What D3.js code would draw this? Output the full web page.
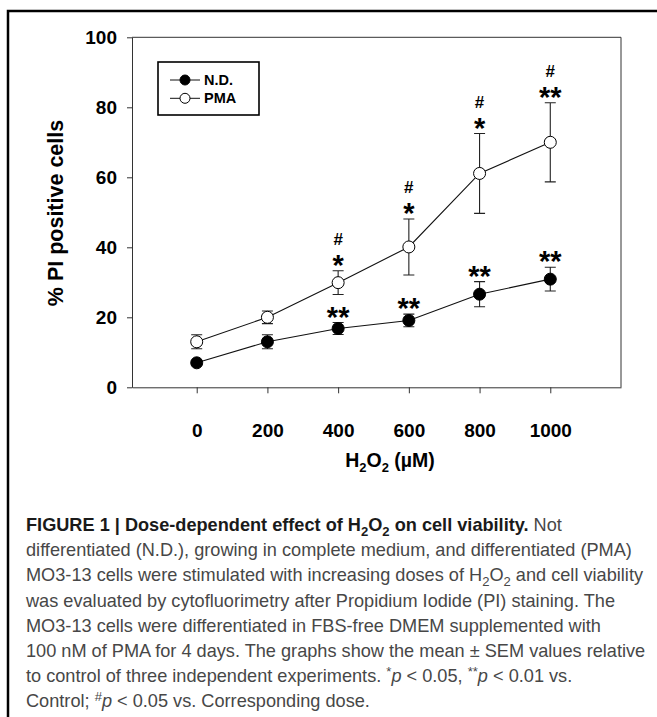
<!DOCTYPE html>
<html><head><meta charset="utf-8">
<script src="https://cdn.jsdelivr.net/npm/d3@7"></script>
<style>body{margin:0;background:#fff} svg{display:block}</style>
</head><body><svg id="c" width="657" height="717"></svg>
<script>
// ---- data ----
const doses = [0, 200, 400, 600, 800, 1000];
const ndMean = [7.0, 13.0, 16.8, 19.1, 26.6, 30.9];
const ndSem = [0.6, 2.0, 1.7, 1.8, 3.6, 3.4];
const pmaMean = [13.0, 20.0, 29.9, 40.1, 61.1, 70.0];
const pmaSem = [2.0, 1.8, 3.4, 8.0, 11.4, 11.3];
const ndStars = ["", "", "**", "**", "**", "**"];
const pmaStars = ["", "", "*", "*", "*", "**"];
const pmaHash = ["", "", "#", "#", "#", "#"];
const yTicks = [0, 20, 40, 60, 80, 100];
const xTicks = [0, 200, 400, 600, 800, 1000];
const seriesNames = ["N.D.", "PMA"];
const captionLines = [
  [["FIGURE 1 | Dose-dependent effect of H","b"],["2","bsub"],["O","b"],["2","bsub"],[" on cell viability.","b"],[" Not","r"]],
  [["differentiated (N.D.), growing in complete medium, and differentiated (PMA)","r"]],
  [["MO3-13 cells were stimulated with increasing doses of H","r"],["2","sub"],["O","r"],["2","sub"],[" and cell viability","r"]],
  [["was evaluated by cytofluorimetry after Propidium Iodide (PI) staining. The","r"]],
  [["MO3-13 cells were differentiated in FBS-free DMEM supplemented with","r"]],
  [["100 nM of PMA for 4 days. The graphs show the mean \u00b1 SEM values relative","r"]],
  [["to control of three independent experiments. ","r"],["*","sup"],["p","i"],[" < 0.05, ","r"],["**","sup"],["p","i"],[" < 0.01 vs.","r"]],
  [["Control; ","r"],["#","sup"],["p","i"],[" < 0.05 vs. Corresponding dose.","r"]]
];

const FONT = "'Liberation Sans', Arial, Helvetica, sans-serif";
const svg = d3.select("#c");

// frame
svg.append("rect").attr("x", 8).attr("y", 11).attr("width", 700).attr("height", 760)
  .attr("fill", "none").attr("stroke", "#000").attr("stroke-width", 2.5);

const x = d3.scaleLinear().domain([-183, 1200]).range([132, 621]);
const y = d3.scaleLinear().domain([0, 100]).range([387.3, 37.3]);

// plot box (top & right)
svg.append("path")
  .attr("d", `M${x(-183)},${y(100)}H${x(1200)}V${y(0)}`)
  .attr("fill", "none").attr("stroke", "#333").attr("stroke-width", 1);

// axes
const gy = svg.append("g").attr("transform", `translate(${x(-183)},0)`)
  .call(d3.axisLeft(y).tickValues(yTicks).tickSize(5).tickSizeOuter(0).tickPadding(10).tickFormat(d3.format("d")));
const gx = svg.append("g").attr("transform", `translate(0,${y(0)})`)
  .call(d3.axisBottom(x).tickValues(xTicks).tickSize(6).tickSizeOuter(0).tickPadding(30).tickFormat(d3.format("d")));
[gx, gy].forEach(g => {
  g.select(".domain").attr("stroke", "#333");
  g.selectAll(".tick line").attr("stroke", "#333");
  g.selectAll(".tick text").attr("font-family", FONT).attr("font-weight", "bold")
    .attr("font-size", 19).attr("fill", "#000");
});

// axis titles
svg.append("text").attr("transform", "translate(63,213) rotate(-90)")
  .attr("text-anchor", "middle").attr("font-family", FONT).attr("font-weight", "bold")
  .attr("font-size", 21.5).attr("fill", "#000").text("% PI positive cells");

const xt = svg.append("text").attr("x", 390).attr("y", 467).attr("text-anchor", "middle")
  .attr("font-family", FONT).attr("font-weight", "bold").attr("font-size", 19.5).attr("fill", "#000");
xt.append("tspan").text("H");
xt.append("tspan").attr("font-size", 13).attr("dy", 5).text("2");
xt.append("tspan").attr("dy", -5).text("O");
xt.append("tspan").attr("font-size", 13).attr("dy", 5).text("2");
xt.append("tspan").attr("dy", -5).text(" (\u00b5M)");

// series
const series = [
  {name: seriesNames[0], mean: ndMean, sem: ndSem, fill: "#000", stars: ndStars, hash: null},
  {name: seriesNames[1], mean: pmaMean, sem: pmaSem, fill: "#fff", stars: pmaStars, hash: pmaHash}
];
const line = d3.line().x(d => x(d[0])).y(d => y(d[1]));
const cap = 5.5;

series.forEach(s => {
  const pts = doses.map((d, i) => [d, s.mean[i], s.sem[i]]);
  const g = svg.append("g");
  pts.forEach(p => {
    const top = y(p[1] + p[2]), bot = y(p[1] - p[2]), cx = x(p[0]);
    g.append("path").attr("d", `M${cx},${top}V${bot}M${cx - cap},${top}H${cx + cap}M${cx - cap},${bot}H${cx + cap}`)
      .attr("stroke", "#222").attr("stroke-width", 1.1).attr("fill", "none");
  });
  g.append("path").datum(pts).attr("d", line).attr("fill", "none").attr("stroke", "#111").attr("stroke-width", 1.1);
  g.selectAll("circle").data(pts).join("circle")
    .attr("cx", p => x(p[0])).attr("cy", p => y(p[1])).attr("r", 6)
    .attr("fill", s.fill).attr("stroke", "#000").attr("stroke-width", 1);
  pts.forEach((p, i) => {
    const top = y(p[1] + p[2]);
    if (s.stars[i]) {
      svg.append("text").attr("x", x(p[0])).attr("y", top + 4).attr("text-anchor", "middle")
        .attr("font-family", FONT).attr("font-weight", "bold").attr("font-size", 29).attr("fill", "#000")
        .text(s.stars[i]);
    }
    if (s.hash && s.hash[i]) {
      svg.append("text").attr("x", x(p[0])).attr("y", top - 25.5).attr("text-anchor", "middle")
        .attr("font-family", FONT).attr("font-weight", "bold").attr("font-size", 17).attr("fill", "#000")
        .text(s.hash[i]);
    }
  });
});

// legend
const lg = svg.append("g");
lg.append("rect").attr("x", 158).attr("y", 62).attr("width", 101).attr("height", 53)
  .attr("fill", "#fff").attr("stroke", "#000").attr("stroke-width", 1.6);
series.forEach((s, i) => {
  const ly = 80 + i * 18.3;
  lg.append("line").attr("x1", 170).attr("x2", 200).attr("y1", ly).attr("y2", ly).attr("stroke", "#111");
  lg.append("circle").attr("cx", 185).attr("cy", ly).attr("r", 5).attr("fill", s.fill).attr("stroke", "#000");
  lg.append("text").attr("x", 204).attr("y", ly + 5).attr("font-family", FONT).attr("font-weight", "bold")
    .attr("font-size", 14.5).attr("fill", "#000").text(s.name);
});

// caption
const cap0 = 531, capStep = 25.2, capX = 26;
const capTexts = captionLines.map((segs, li) => {
  const t = svg.append("text").attr("x", capX).attr("y", cap0 + li * capStep)
    .attr("font-family", FONT).attr("font-size", 16).attr("fill", "#474747");
  let shift = 0;
  segs.forEach(([txt, st]) => {
    const ts = t.append("tspan").text(txt);
    let want = 0;
    if (st === "sub" || st === "bsub") { want = 0.25; ts.attr("class", "small"); }
    if (st === "sup") { want = -0.35; ts.attr("class", "small"); }
    if (st === "b" || st === "bsub") ts.attr("font-weight", "bold").attr("fill", "#1a1a1a");
    if (st === "i") ts.attr("font-style", "italic");
    ts.attr("data-shift", want - shift);
    shift = want;
  });
  return t;
});
const ref = capTexts[5].node().getComputedTextLength();
const F = 16 * 620 / ref;
capTexts.forEach(t => {
  t.attr("font-size", F);
  t.selectAll("tspan").each(function () {
    const ts = d3.select(this);
    ts.attr("dy", (+ts.attr("data-shift")) * F);
    if (ts.attr("class") === "small") ts.attr("font-size", F * 0.72);
  });
});
</script></body></html>
